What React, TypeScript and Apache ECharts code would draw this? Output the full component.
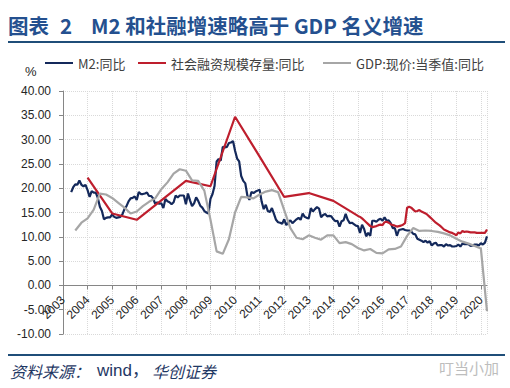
import React, { useEffect, useRef } from 'react';
import * as echarts from 'echarts';

// ---- Data ----
const seriesNames = ['M2:同比', '社会融资规模存量:同比', 'GDP:现价:当季值:同比'];

// M2 YoY, monthly, from 2003-04 to 2020-03
const m2Start = { year: 2003, month: 4 };
const m2Values = [
  19.2, 20.2, 20.8, 20.7, 21.6, 20.7, 20.4, 20.7, 19.6,
  18.2, 19.4, 19.1, 19.1, 18.0, 16.2, 15.3, 13.6, 13.9, 14.0, 14.0, 14.6,
  14.1, 13.9, 14.0, 14.1, 14.6, 15.7, 16.3, 17.3, 17.9, 18.0, 18.3, 17.6,
  19.2, 18.8, 18.8, 18.9, 19.1, 18.4, 18.4, 17.9, 16.8, 17.1, 16.8, 16.9,
  15.9, 17.8, 17.3, 17.1, 16.7, 17.1, 18.5, 18.1, 18.5, 18.5, 18.5, 16.7,
  18.9, 17.5, 16.3, 16.9, 18.1, 17.4, 16.4, 16.0, 15.3, 15.0, 14.8, 17.8,
  18.8, 20.5, 25.5, 26.0, 25.7, 28.5, 28.4, 28.5, 29.3, 29.4, 29.7, 27.7,
  26.1, 25.5, 22.5, 21.5, 21.0, 18.5, 17.6, 19.2, 19.0, 19.3, 19.5, 19.7,
  17.2, 15.7, 16.6, 15.3, 15.1, 15.9, 14.7, 13.5, 13.0, 12.9, 12.7, 13.6,
  12.4, 13.0, 13.4, 12.8, 13.2, 13.6, 13.9, 13.5, 14.8, 14.1, 13.9, 13.8,
  15.9, 15.2, 15.7, 16.1, 15.8, 14.0, 14.5, 14.7, 14.2, 14.3, 14.2, 13.6,
  13.2, 13.3, 12.1, 13.2, 13.4, 14.7, 13.5, 12.8, 12.9, 12.6, 12.3, 12.2,
  10.8, 12.5, 11.6, 10.1, 10.8, 10.2, 13.3, 13.3, 13.1, 13.5, 13.7, 13.3,
  14.0, 13.3, 13.4, 12.8, 11.8, 11.8, 10.2, 11.4, 11.5, 11.6, 11.4, 11.3,
  11.3, 11.1, 10.6, 10.5, 9.6, 9.4, 9.2, 8.9, 9.2, 8.8, 9.1, 8.2,
  8.6, 8.8, 8.2, 8.3, 8.3, 8.0, 8.5, 8.2, 8.3, 8.0, 8.0, 8.1,
  8.4, 8.0, 8.6, 8.5, 8.5, 8.5, 8.1, 8.2, 8.4, 8.4, 8.2, 8.7,
  8.4, 8.8, 10.1,
];

// Social financing stock YoY: year-end values 2003-2014, then monthly from 2015-01
const tsfAnnualYears = [2003, 2004, 2005, 2006, 2007, 2008, 2009, 2010, 2011, 2012, 2013, 2014];
const tsfAnnualValues = [22.2, 14.8, 13.5, 17.5, 21.5, 20.4, 34.7, 26.5, 18.2, 19.0, 17.4, 14.3];
const tsfMonthlyStart = { year: 2015, month: 1 };
const tsfMonthlyValues = [
  14.1, 13.8, 13.4, 13.0, 12.6, 12.2, 12.0, 12.1, 12.2, 12.4, 12.5, 12.4,
  13.0, 13.1, 12.9, 12.6, 12.4, 12.3, 12.1, 12.2, 12.3, 12.5, 12.8, 16.0,
  16.2, 16.0, 15.6, 15.2, 15.3, 15.5, 15.2, 15.0, 14.8, 14.5, 14.1, 13.7,
  13.3, 12.9, 12.6, 12.3, 11.9, 11.5, 11.3, 11.1, 10.9, 10.8, 10.6, 10.3,
  10.9, 10.7, 11.2, 11.0, 11.1, 11.0, 10.9, 10.9, 10.9, 10.8, 10.8, 10.8,
  10.8, 10.8, 11.5,
];

// Nominal GDP YoY, quarterly, from 2003Q2 to 2020Q1
const gdpStart = { year: 2003, quarter: 2 };
const gdpValues = [
  11.3, 12.9, 13.8,
  15.6, 18.9, 18.7, 18.0,
  17.0, 16.0, 14.8, 15.2,
  16.3, 17.2, 17.9, 19.8,
  21.2, 23.0, 23.9, 23.6,
  21.6, 21.5, 19.5, 13.5,
  7.0, 6.5, 9.5, 15.0,
  18.2, 18.1, 17.9, 18.7,
  19.3, 19.6, 19.2, 15.5,
  11.8, 9.8, 9.5, 10.3,
  9.8, 9.4, 10.3, 10.3,
  8.7, 8.9, 8.5, 7.7,
  7.2, 7.5, 6.7, 6.6,
  7.4, 7.5, 8.0, 10.2,
  11.8, 11.2, 11.3, 11.2,
  11.0, 10.7, 10.3, 9.6,
  9.0, 8.6, 8.1, 7.6,
  -5.3,
];

const yearTicks = [2003, 2004, 2005, 2006, 2007, 2008, 2009, 2010, 2011, 2012, 2013, 2014, 2015, 2016, 2017, 2018, 2019, 2020];
const xEnd = 2020.25;
const yMin = -10;
const yMax = 40;
const yStep = 5;

const colors = ['#14295B', '#BE1E2D', '#A6A6A6'];

function monthly(start: { year: number; month: number }, values: number[]) {
  return values.map((v, i) => [start.year + (start.month + i) / 12, v]);
}
function quarterly(start: { year: number; quarter: number }, values: number[]) {
  return values.map((v, i) => [start.year + ((start.quarter + i) * 3) / 12, v]);
}

const m2Data = monthly(m2Start, m2Values);
const tsfData = [
  ...tsfAnnualYears.map((y, i) => [y + 1, tsfAnnualValues[i]]),
  ...monthly(tsfMonthlyStart, tsfMonthlyValues),
];
const gdpData = quarterly(gdpStart, gdpValues);

const CJK = '"Noto Sans CJK SC", "Noto Sans", sans-serif';
const LAT = '"Liberation Sans", Arial, "Noto Sans CJK SC", sans-serif';

export default function App() {
  const ref = useRef<HTMLDivElement>(null);
  useEffect(() => {
    if (!ref.current) return;
    const chart = echarts.init(ref.current, null, { renderer: 'svg' });
    const legendBase = {
      top: 56,
      itemWidth: 28,
      itemHeight: 2,
      icon: 'rect',
      textStyle: { fontSize: 13, color: '#404040', fontFamily: CJK, lineHeight: 14 },
      padding: 0,
    };
    chart.setOption({
      animation: false,
      backgroundColor: '#ffffff',
      color: colors,
      textStyle: { fontFamily: LAT },
      legend: [
        { ...legendBase, left: 45, data: [seriesNames[0]] },
        { ...legendBase, left: 138, data: [seriesNames[1]] },
        { ...legendBase, left: 323, data: [seriesNames[2]] },
      ],
      grid: { left: 63, right: 23, top: 91, bottom: 54, outerBoundsMode: 'none', containLabel: false },
      xAxis: {
        type: 'value',
        min: yearTicks[0],
        max: xEnd,
        interval: 1,
        axisLine: { onZero: true, lineStyle: { color: '#868686', width: 1 } },
        axisTick: { show: true, length: 4, lineStyle: { color: '#868686' } },
        axisLabel: {
          rotate: 45,
          fontSize: 12,
          color: '#262626',
          margin: -36,
          showMaxLabel: false,
          fontFamily: LAT,
          formatter: (v: number) => (yearTicks.includes(Math.round(v * 1000) / 1000) ? String(Math.round(v)) : ''),
        },
        splitLine: { show: true, lineStyle: { color: '#D9D9D9', type: 'dotted', width: 1 } },
      },
      yAxis: {
        type: 'value',
        min: yMin,
        max: yMax,
        interval: yStep,
        axisLine: { show: true, lineStyle: { color: '#868686', width: 1 } },
        axisTick: { show: true, length: 4, lineStyle: { color: '#868686' } },
        axisLabel: {
          fontSize: 12,
          color: '#262626',
          margin: 12,
          fontFamily: LAT,
          formatter: (v: number) => v.toFixed(2),
        },
        splitLine: { show: true, lineStyle: { color: '#D9D9D9', type: 'dotted', width: 1 } },
      },
      series: [
        { name: seriesNames[0], type: 'line', data: m2Data, showSymbol: false, symbol: 'none', lineStyle: { width: 2.2, color: colors[0] }, z: 3 },
        { name: seriesNames[1], type: 'line', data: tsfData, showSymbol: false, symbol: 'none', lineStyle: { width: 2.2, color: colors[1] }, z: 3 },
        { name: seriesNames[2], type: 'line', data: gdpData, showSymbol: false, symbol: 'none', lineStyle: { width: 2.2, color: colors[2] }, z: 3 },
      ],
      graphic: [
        { type: 'text', left: 8, top: 15, style: { text: '图表', fontSize: 20.5, fontWeight: 'bold', fill: '#24508F', fontFamily: CJK } },
        { type: 'text', left: 60, top: 15, style: { text: '2', fontSize: 20.5, fontWeight: 'bold', fill: '#24508F', fontFamily: CJK } },
        { type: 'text', left: 91, top: 15, style: { text: 'M2 和社融增速略高于 GDP 名义增速', fontSize: 20.5, fontWeight: 'bold', fill: '#24508F', fontFamily: CJK } },
        { type: 'rect', left: 8, top: 41, shape: { width: 497, height: 2 }, style: { fill: '#1F4E79' } },
        { type: 'text', left: 25, top: 65, style: { text: '%', fontSize: 13, fill: '#262626', fontFamily: LAT } },
        { type: 'rect', left: 8, top: 354, shape: { width: 497, height: 2 }, style: { fill: '#1F4E79' } },
        { type: 'text', left: 10, top: 363, style: { text: '资料来源：', fontSize: 16, fontStyle: 'italic', fill: '#1F3864', fontFamily: CJK } },
        { type: 'text', left: 97, top: 362, style: { text: 'wind，', fontSize: 17, fill: '#1F3864', fontFamily: LAT } },
        { type: 'text', left: 152, top: 363, style: { text: '华创证券', fontSize: 16, fontStyle: 'italic', fill: '#1F3864', fontFamily: CJK } },
        { type: 'text', left: 439, top: 360, style: { text: '叮当小加', fontSize: 15, fill: '#BDBDBD', fontFamily: CJK } },
      ],
    });
    return () => chart.dispose();
  }, []);
  return <div ref={ref} style={{ position: 'fixed', left: 0, top: 0, width: 510, height: 388, background: '#fff' }} />;
}
